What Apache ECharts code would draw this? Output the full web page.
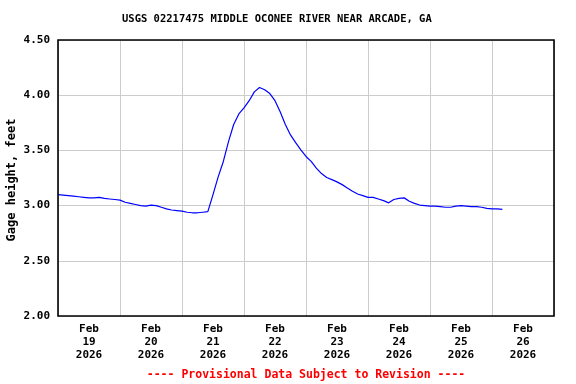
<!DOCTYPE html>
<html>
<head>
<meta charset="utf-8">
<script src="https://cdn.jsdelivr.net/npm/echarts@6/dist/echarts.min.js"></script>
<style>html,body{margin:0;padding:0;background:#fff}#c{width:576px;height:384px}</style>
</head>
<body>
<div id="c"></div>
<script>
// Gage height, 2-hour steps starting Feb 19 2026 00:00
var startLabel = 'Feb 19 2026 00:00';
var stepHours = 2;
var gageHeight = [
  3.10, 3.095, 3.09, 3.085, 3.08, 3.075, 3.07, 3.07, 3.075, 3.065, 3.06, 3.055,
  3.05, 3.03, 3.02, 3.01, 3.00, 2.995, 3.005, 3.00, 2.985, 2.97, 2.96, 2.955,
  2.95, 2.94, 2.935, 2.935, 2.94, 2.945, 3.10, 3.26, 3.40, 3.58, 3.735, 3.83,
  3.885, 3.95, 4.03, 4.07, 4.05, 4.015, 3.95, 3.85, 3.735, 3.64, 3.57, 3.505,
  3.445, 3.40, 3.34, 3.29, 3.255, 3.235, 3.215, 3.19, 3.16, 3.13, 3.105, 3.09,
  3.075, 3.075, 3.06, 3.045, 3.025, 3.055, 3.065, 3.07, 3.04, 3.02, 3.005, 3.00,
  2.995, 2.995, 2.99, 2.985, 2.985, 2.995, 3.00, 2.995, 2.99, 2.99, 2.985, 2.975,
  2.97, 2.97, 2.965
];
var dayLabels = ['Feb\n19\n2026','Feb\n20\n2026','Feb\n21\n2026','Feb\n22\n2026',
                 'Feb\n23\n2026','Feb\n24\n2026','Feb\n25\n2026','Feb\n26\n2026'];
var yTicks = [2.0, 2.5, 3.0, 3.5, 4.0, 4.5];
var titleText = 'USGS 02217475 MIDDLE OCONEE RIVER NEAR ARCADE, GA';
var yName = 'Gage height, feet';
var footer = '---- Provisional Data Subject to Revision ----';

var pts = gageHeight.map(function(v, i){ return [i * stepHours, v]; });
var FONT = '"DejaVu Sans Mono", "Liberation Mono", monospace';

var chart = echarts.init(document.getElementById('c'), null, {renderer:'canvas'});
chart.setOption({
  animation: false,
  backgroundColor: '#fff',
  grid: {left: 58, right: 22, top: 40, bottom: 68, show: true, borderColor: '#000', borderWidth: 1.6, backgroundColor: 'transparent', z: 10},
  xAxis: [
    {type: 'value', min: 0, max: dayLabels.length * 24, interval: 24, show: true,
     axisLine: {show: false}, axisTick: {show: false}, axisLabel: {show: false},
     splitLine: {show: true, lineStyle: {color: '#cccccc', width: 1}}},
    {type: 'category', data: dayLabels, boundaryGap: true, position: 'bottom',
     axisLine: {show: false}, axisTick: {show: false}, splitLine: {show: false},
     axisLabel: {margin: 7, color: '#000', fontFamily: FONT, fontWeight: 'bold', fontSize: 11, lineHeight: 13, interval: 0}}
  ],
  yAxis: {type: 'value', min: yTicks[0], max: yTicks[yTicks.length-1], interval: 0.5,
    axisLine: {show: false}, axisTick: {show: false},
    axisLabel: {margin: 8, color: '#000', fontFamily: FONT, fontWeight: 'bold', fontSize: 11,
      formatter: function(v){ return v.toFixed(2); }},
    splitLine: {show: true, lineStyle: {color: '#cccccc', width: 1}}},
  graphic: [
    {type: 'text', left: 122, top: 14, style: {text: titleText, fill: '#000', font: 'bold 10.5px ' + FONT}},
    {type: 'text', x: 12, y: 180, rotation: Math.PI / 2,
     style: {text: yName, fill: '#000', font: 'bold 12px ' + FONT, textAlign: 'center', textVerticalAlign: 'middle'}},
    {type: 'text', x: 306, y: 375,
     style: {text: footer, fill: '#ff0000', font: 'bold 11.5px ' + FONT, textAlign: 'center', textVerticalAlign: 'middle'}}
  ],
  series: [{
    type: 'line', xAxisIndex: 0, data: pts, showSymbol: false, symbol: 'none',
    lineStyle: {color: '#0000ff', width: 1.2}, z: 5
  }]
});
</script>
</body>
</html>
